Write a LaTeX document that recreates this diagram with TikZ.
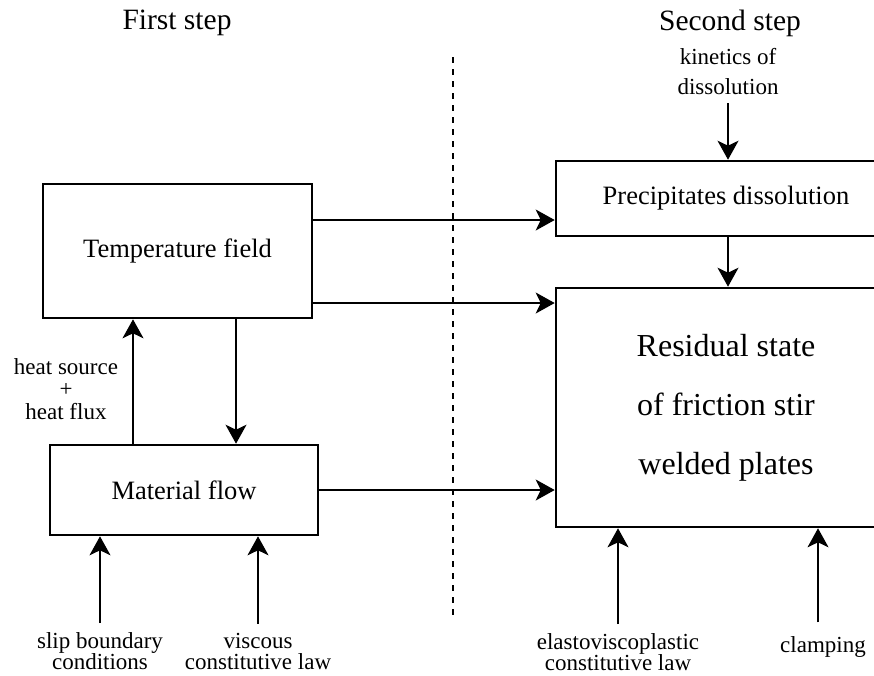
\documentclass[tikz,border=0pt]{standalone}
\usepackage{fontspec}
\setmainfont{Liberation Serif}
\usetikzlibrary{arrows.meta,positioning,calc}

\begin{document}
\begin{tikzpicture}[x=1pt, y=-1pt,
    block/.style={
      rectangle,
      draw,
      line width=2.6pt,
      inner sep=0pt,
      align=center,
      font=\fontsize{26.5}{30}\selectfont
    },
    title/.style={font=\fontsize{29.5}{32}\selectfont},
    lbl/.style={align=center, inner sep=2pt, font=\fontsize{23}{21}\selectfont},
    arrow/.style={-{Stealth[length=19pt, width=21pt, inset=5pt]}, line width=1.5pt}
  ]
    \clip (0,0) rectangle (874,675);

    % titles
    \node[title] (first) at (177,23) {First step};
    \node[title] (second) at (730,23) {Second step};

    % blocks
    \node[block, minimum width=269pt, minimum height=134pt] (temp) at (177.5,251) {Temperature field};
    \node[block, minimum width=268pt, minimum height=90pt] (matflow) at (184,490) {Material flow};
    \node[block, minimum width=340pt, minimum height=75pt] (precip) at (726,198.5) {Precipitates dissolution};
    \node[block, minimum width=340pt, minimum height=239pt, font=\fontsize{32}{59}\selectfont] (resid) at (726,407.5)
      {Residual state\\ of friction stir\\welded plates};

    % labels
    \node[lbl, font=\fontsize{23}{30}\selectfont] (kinetics) at (728,72) {kinetics of\\dissolution};
    \node[lbl, font=\fontsize{23}{22.5}\selectfont] (heat) at (66,389) {heat source\\+\\heat flux};
    \node[lbl] (slip) at (100,651) {slip boundary\\conditions};
    \node[lbl] (viscous) at (258,651) {viscous\\constitutive law};
    \node[lbl] (elasto) at (618,652) {elastoviscoplastic\\constitutive law};
    \node[lbl] (clamping) at (823,647) {clamping};

    % separation
    \coordinate (septop) at (453,57);
    \coordinate (sepbot) at (453,615);
    \draw[line width=1.4pt, dash pattern=on 6pt off 6pt] (septop) -- (sepbot);

    % first step links
    \draw[arrow] ([xshift=58.5pt]temp.south) -- ([xshift=52pt]matflow.north);
    \draw[arrow] ([xshift=-51pt]matflow.north) -- ([xshift=-44.5pt]temp.south);
    \draw[arrow] ([yshift=7pt]slip.north) -- (slip.north |- matflow.south);
    \draw[arrow] ([yshift=7pt]viscous.north) -- (viscous.north |- matflow.south);

    % towards second step
    \draw[arrow] ([yshift=31pt]temp.east) -- ([yshift=31pt]temp.east -| precip.west);
    \draw[arrow] ([yshift=-52pt]temp.east) -- ([yshift=-52pt]temp.east -| resid.west);
    \draw[arrow] (matflow.east) -- (matflow.east -| resid.west);

    % second step links
    \draw[arrow] ([yshift=-6pt]kinetics.south) -- (kinetics.south |- precip.north);
    \draw[arrow] ([xshift=2pt]precip.south) -- ([xshift=2pt]resid.north);
    \draw[arrow] ([yshift=7pt]elasto.north) -- (elasto.north |- resid.south);
    \draw[arrow] ([xshift=-5pt, yshift=12pt]clamping.north) -- ([xshift=-5pt]clamping.north |- resid.south);
  \end{tikzpicture}
\end{document}
